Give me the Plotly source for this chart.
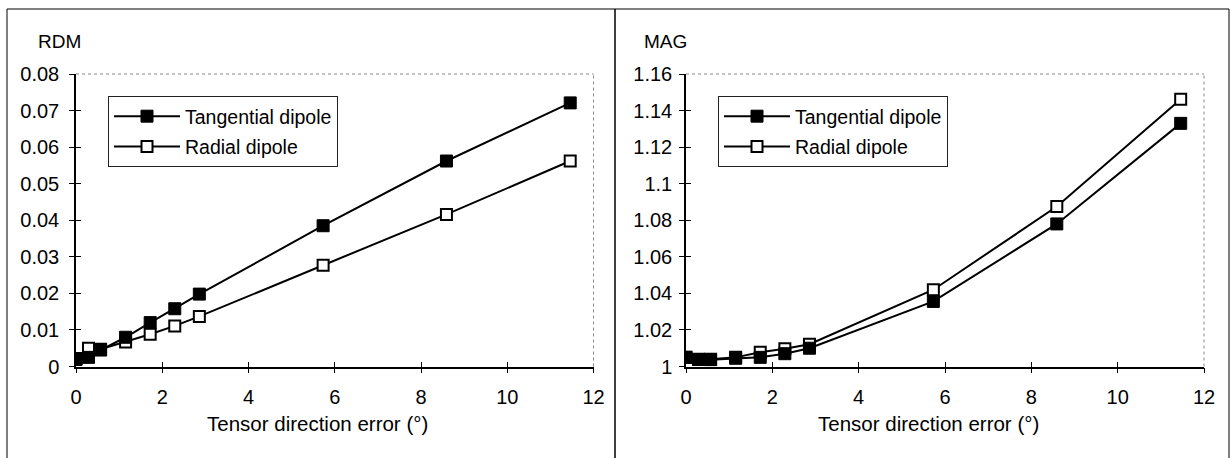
import plotly.graph_objects as go

# ---- data ----
x_deg = [0.0, 0.29, 0.57, 1.15, 1.72, 2.29, 2.86, 5.73, 8.59, 11.46]
rdm_tan = [0.0019, 0.0025, 0.0045, 0.0080, 0.0120, 0.0158, 0.0198, 0.0385, 0.0562, 0.0721]
rdm_rad = [0.0022, 0.0050, 0.0047, 0.0067, 0.0088, 0.0111, 0.0137, 0.0277, 0.0416, 0.0562]
mag_tan = [1.0050, 1.0038, 1.0037, 1.0045, 1.0050, 1.0070, 1.0100, 1.0356, 1.0780, 1.1330]
mag_rad = [1.0050, 1.0040, 1.0040, 1.0050, 1.0078, 1.0097, 1.0122, 1.0420, 1.0875, 1.1462]

series_names = ["Tangential dipole", "Radial dipole"]
x_ticks = [0, 2, 4, 6, 8, 10, 12]
rdm_ticks = [0, 0.01, 0.02, 0.03, 0.04, 0.05, 0.06, 0.07, 0.08]
rdm_ticktext = ["0", "0.01", "0.02", "0.03", "0.04", "0.05", "0.06", "0.07", "0.08"]
mag_ticks = [1.0, 1.02, 1.04, 1.06, 1.08, 1.10, 1.12, 1.14, 1.16]
mag_ticktext = ["1", "1.02", "1.04", "1.06", "1.08", "1.1", "1.12", "1.14", "1.16"]
x_title = "Tensor direction error (°)"
panel_titles = ["RDM", "MAG"]

W, H = 1231, 458
FONT = "Liberation Sans, Arial, sans-serif"

fig = go.Figure()

line_style = dict(color="black", width=2)
filled = dict(symbol="square", size=12, color="black", line=dict(color="black", width=1))
hollow = dict(symbol="square", size=11, color="white", line=dict(color="black", width=2))

# left panel (radial first so tangential draws on top)
fig.add_trace(go.Scatter(x=x_deg, y=rdm_rad, name=series_names[1], mode="lines+markers",
                         line=line_style, marker=hollow, xaxis="x", yaxis="y",
                         legend="legend", legendrank=2, legendgroup="r1"))
fig.add_trace(go.Scatter(x=x_deg, y=rdm_tan, name=series_names[0], mode="lines+markers",
                         line=line_style, marker=filled, xaxis="x", yaxis="y",
                         legend="legend", legendrank=1, legendgroup="t1"))
# right panel
fig.add_trace(go.Scatter(x=x_deg, y=mag_rad, name=series_names[1], mode="lines+markers",
                         line=line_style, marker=hollow, xaxis="x2", yaxis="y2",
                         legend="legend2", legendrank=2, legendgroup="r2"))
fig.add_trace(go.Scatter(x=x_deg, y=mag_tan, name=series_names[0], mode="lines+markers",
                         line=line_style, marker=filled, xaxis="x2", yaxis="y2",
                         legend="legend2", legendrank=1, legendgroup="t2"))

xd1 = [76 / W, 593.5 / W]
xd2 = [686 / W, 1204 / W]
yd = [1 - 366.5 / H, 1 - 74 / H]

tickfont = dict(family=FONT, size=20, color="black")

common_x = dict(range=[0, 12], tickvals=x_ticks, ticks="outside", ticklen=5, tickcolor="black",
                tickwidth=1, showline=True, linecolor="black", linewidth=1.5, showgrid=False,
                zeroline=False, tickfont=tickfont, ticklabelstandoff=7, automargin=False)
common_y = dict(ticks="outside", ticklen=5, tickcolor="black", tickwidth=1, showline=True,
                linecolor="black", linewidth=1.5, showgrid=False, zeroline=False, tickfont=tickfont,
                automargin=False)
inner = dict(ticks="inside", ticklen=5, tickcolor="black", showticklabels=False, showline=False,
             showgrid=False, zeroline=False, automargin=False)

legend_common = dict(xanchor="left", yanchor="top", bgcolor="white", bordercolor="#222",
                     borderwidth=1, font=dict(family=FONT, size=19.5, color="black"),
                     itemwidth=66, tracegroupgap=2, traceorder="grouped")

fig.update_layout(
    width=W, height=H,
    margin=dict(l=0, r=0, t=0, b=0, pad=0, autoexpand=False),
    paper_bgcolor="white", plot_bgcolor="white",
    font=dict(family=FONT, color="black"),
    xaxis=dict(domain=xd1, anchor="y", **common_x),
    yaxis=dict(domain=yd, anchor="x", range=[0, 0.08], tickvals=rdm_ticks, ticktext=rdm_ticktext,
               ticklabelstandoff=6, **common_y),
    xaxis2=dict(domain=xd2, anchor="y2", **common_x),
    yaxis2=dict(domain=yd, anchor="x2", range=[1.0, 1.16], tickvals=mag_ticks, ticktext=mag_ticktext,
                ticklabelstandoff=3, **common_y),
    # overlay axes for inner half of the crossing ticks
    xaxis3=dict(overlaying="x", matches="x", anchor="y", tickvals=x_ticks, **inner),
    yaxis3=dict(overlaying="y", matches="y", anchor="x", tickvals=rdm_ticks, **inner),
    xaxis4=dict(overlaying="x2", matches="x2", anchor="y2", tickvals=x_ticks, **inner),
    yaxis4=dict(overlaying="y2", matches="y2", anchor="x2", tickvals=mag_ticks, **inner),
    legend=dict(x=108 / W, y=1 - 96 / H, **legend_common),
    legend2=dict(x=718 / W, y=1 - 96 / H, **legend_common),
    showlegend=True,
)

# empty traces so the overlay axes get drawn
for xa, ya in (("x3", "y3"), ("x4", "y4")):
    fig.add_trace(go.Scatter(x=[], y=[], xaxis=xa, yaxis=ya, showlegend=False, hoverinfo="skip"))

shapes = []
# dotted plot-area frame (top/right)
for xr, yr in (("x domain", "y domain"), ("x2 domain", "y2 domain")):
    shapes.append(dict(type="line", xref=xr, yref=yr, x0=0, x1=1, y0=1, y1=1,
                       line=dict(color="#888", width=1, dash="dot")))
    shapes.append(dict(type="line", xref=xr, yref=yr, x0=1, x1=1, y0=0, y1=1,
                       line=dict(color="#888", width=1, dash="dot")))
# panel frames
shapes.append(dict(type="rect", xref="paper", yref="paper", x0=7 / W, x1=615 / W,
                   y0=-0.05, y1=1 - 9 / H, line=dict(color="black", width=1)))
shapes.append(dict(type="rect", xref="paper", yref="paper", x0=615 / W, x1=1229 / W,
                   y0=-0.05, y1=1 - 9 / H, line=dict(color="black", width=1)))
fig.update_layout(shapes=shapes)

annotations = [
    dict(text=panel_titles[0], xref="paper", yref="paper", x=59 / W, y=1 - 41 / H,
         xanchor="center", yanchor="middle", showarrow=False,
         font=dict(family=FONT, size=19, color="black")),
    dict(text=panel_titles[1], xref="paper", yref="paper", x=665.5 / W, y=1 - 41 / H,
         xanchor="center", yanchor="middle", showarrow=False,
         font=dict(family=FONT, size=19, color="black")),
    dict(text=x_title, xref="x domain", yref="paper", x=0.467, y=1 - 423 / H,
         xanchor="center", yanchor="middle", showarrow=False,
         font=dict(family=FONT, size=20.5, color="black")),
    dict(text=x_title, xref="x2 domain", yref="paper", x=0.468, y=1 - 423 / H,
         xanchor="center", yanchor="middle", showarrow=False,
         font=dict(family=FONT, size=20.5, color="black")),
]
fig.update_layout(annotations=annotations)

fig.write_html("out.html")
